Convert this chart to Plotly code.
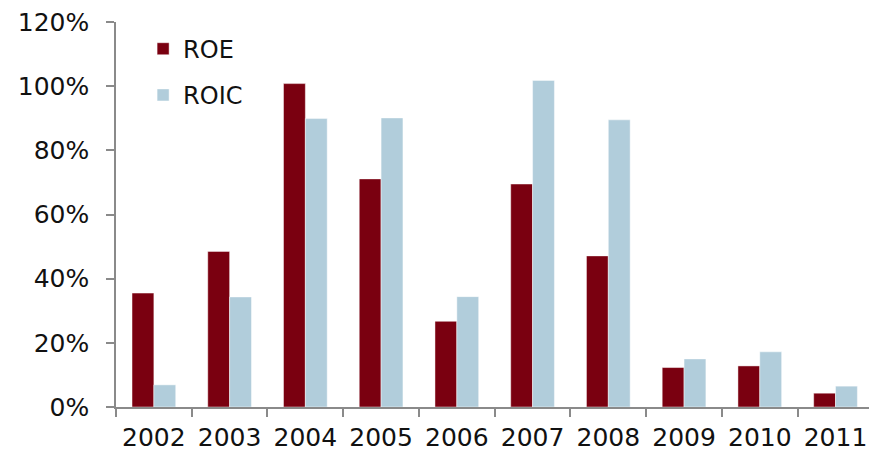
import plotly.graph_objects as go

# Return ratios by year (percent)
years = ["2002", "2003", "2004", "2005", "2006", "2007", "2008", "2009", "2010", "2011"]
roe = [35.5, 48.5, 100.8, 71.1, 26.7, 69.5, 47.1, 12.3, 12.8, 4.3]
roic = [6.9, 34.3, 89.9, 90.1, 34.4, 101.8, 89.5, 15.0, 17.2, 6.5]
y_ticks = [0, 20, 40, 60, 80, 100, 120]
y_tick_labels = [f"{v}%" for v in y_ticks]

ROE_COLOR = "#7a0010"
ROIC_COLOR = "#b1cddb"
AXIS_COLOR = "#8a8a8a"
FONT = "DejaVu Sans"

W, H = 869, 453
ML, MT, MB = 116, 22, 46
plot_w = W - ML
cat_px = 75.74  # pixel width of one year slot

fig = go.Figure()
fig.add_trace(go.Bar(
    x=years, y=roe, name="ROE", legendgroup="roe",
    marker=dict(color=ROE_COLOR, line=dict(color="rgba(255,255,255,0.45)", width=1)),
))
fig.add_trace(go.Bar(
    x=years, y=roic, name="ROIC", legendgroup="roic",
    marker=dict(color=ROIC_COLOR, line=dict(color="rgba(255,255,255,0.45)", width=1)),
))

fig.update_layout(
    width=W, height=H,
    margin=dict(l=ML, r=0, t=MT, b=MB, pad=0, autoexpand=False),
    paper_bgcolor="white", plot_bgcolor="white",
    barmode="group", bargap=0.423, bargroupgap=0,
    font=dict(family=FONT, size=25, color="#111111"),
    showlegend=True,
    legend=dict(
        x=0.036, y=0.988, xanchor="left", yanchor="top",
        bgcolor="rgba(0,0,0,0)", font=dict(size=24, family=FONT, color="#111111"),
        tracegroupgap=12, traceorder="grouped",
    ),
    xaxis=dict(
        type="category", range=[-0.5, -0.5 + plot_w / cat_px],
        showline=True, linecolor=AXIS_COLOR, linewidth=1.5,
        ticks="outside", ticklen=8, tickcolor=AXIS_COLOR, tickwidth=1.5,
        tickson="boundaries", showgrid=False, zeroline=False,
        ticklabelstandoff=7, automargin=False,
        tickfont=dict(size=25, family=FONT, color="#111111"),
    ),
    yaxis=dict(
        range=[0, 120], tickmode="array", tickvals=y_ticks, ticktext=y_tick_labels,
        showline=True, linecolor=AXIS_COLOR, linewidth=1.5,
        ticks="outside", ticklen=8, tickcolor=AXIS_COLOR, tickwidth=1.5,
        showgrid=False, zeroline=False,
        ticklabelstandoff=12, automargin=False,
        tickfont=dict(size=25, family=FONT, color="#111111"),
    ),
)

fig.write_html("out.html")
